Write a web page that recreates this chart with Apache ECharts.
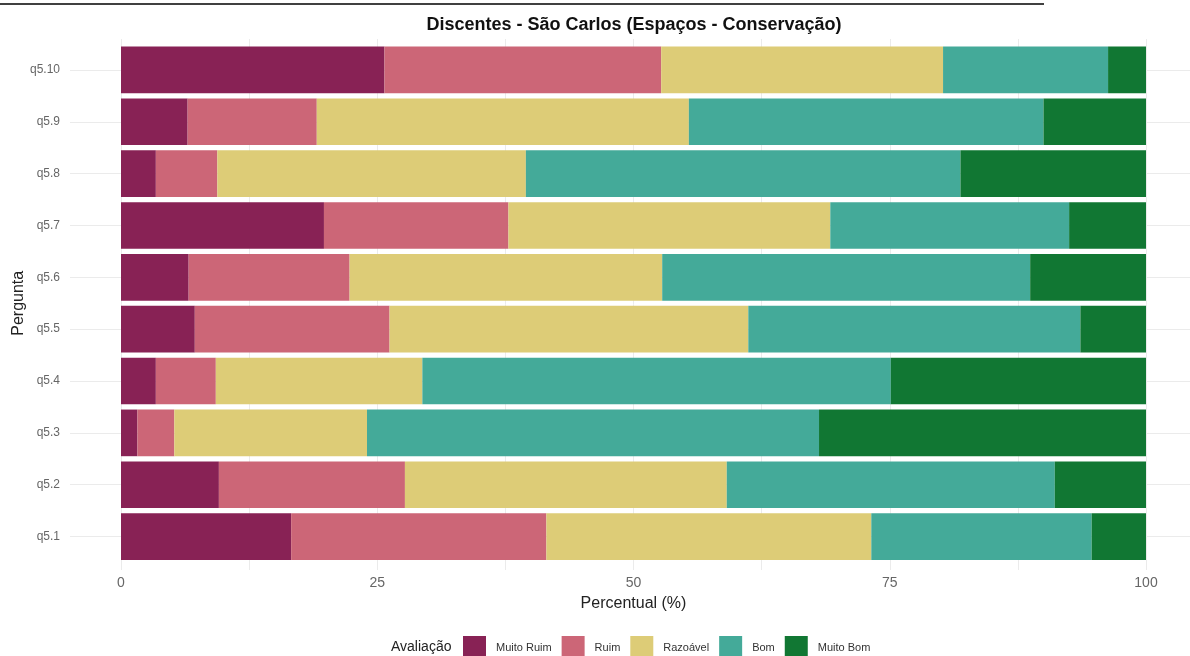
<!DOCTYPE html>
<html>
<head>
<meta charset="utf-8">
<script src="https://cdn.jsdelivr.net/npm/echarts@6/dist/echarts.min.js"></script>
<style>
html,body{margin:0;padding:0;background:#fff;}
#chart{width:1190px;height:656px;}
</style>
</head>
<body>
<div id="chart"></div>
<script>
// Data (bottom-to-top order, as ECharts category axis runs from bottom)
const categories = ['q5.1','q5.2','q5.3','q5.4','q5.5','q5.6','q5.7','q5.8','q5.9','q5.10'];
const seriesNames = ['Muito Ruim','Ruim','Razoável','Bom','Muito Bom'];
const muitoRuim = [16.6, 9.55, 1.6, 3.4, 7.2, 6.6, 19.8, 3.4, 6.5, 25.7];
const ruim      = [24.9, 18.15, 3.6, 5.85, 19.0, 15.7, 18.0, 6.0, 12.6, 27.0];
const razoavel  = [31.7, 31.4, 18.8, 20.15, 35.0, 30.5, 31.4, 30.1, 36.3, 27.5];
const bom       = [21.5, 32.0, 44.1, 45.7, 32.4, 35.9, 23.3, 42.4, 34.6, 16.1];
const muitoBom  = [5.3, 8.9, 31.9, 24.9, 6.4, 11.3, 7.5, 18.1, 10.0, 3.7];
const xTickLabels = [0, 25, 50, 75, 100];

const colors = ['#882255','#CC6677','#DDCC77','#44AA99','#117733'];
const values = [muitoRuim, ruim, razoavel, bom, muitoBom];
const FONT = 'Liberation Sans, Arial, sans-serif';

const chart = echarts.init(document.getElementById('chart'), null, {renderer:'canvas'});

const series = seriesNames.map((name, i) => ({
  name: name,
  type: 'bar',
  stack: 'total',
  xAxisIndex: 1,
  yAxisIndex: 1,
  barCategoryGap: '10%',
  itemStyle: {color: colors[i]},
  emphasis: {disabled: true},
  data: values[i]
}));

chart.setOption({
  animation: false,
  backgroundColor: '#ffffff',
  title: {
    text: 'Discentes - São Carlos (Espaços - Conservação)',
    left: 629,
    top: 11,
    textAlign: 'center',
    textStyle: {fontFamily: FONT, fontSize: 18, fontWeight: 'bold', color: '#111'}
  },
  legend: {
    data: seriesNames,
    left: 458,
    top: 631,
    itemWidth: 23,
    itemHeight: 23,
    itemGap: 10,
    icon: 'rect',
    textStyle: {fontFamily: FONT, fontSize: 11, color: '#333', padding: [0,0,0,5]}
  },
  grid: [
    {left: 70, right: 0, top: 70, bottom: 119.5, containLabel: false, outerBoundsMode: 'none'},
    {left: 121, right: 44, top: 44, bottom: 93.5, containLabel: false, outerBoundsMode: 'none'},
    {left: 121, right: 44, top: 39, bottom: 86, containLabel: false, outerBoundsMode: 'none'}
  ],
  xAxis: [
    {gridIndex: 0, type: 'value', min: 0, max: 100, show: false},
    {
      gridIndex: 1, type: 'value', min: 0, max: 100, interval: 12.5,
      axisLine: {show: false}, axisTick: {show: false},
      splitLine: {show: false},
      axisLabel: {
        margin: 14, fontFamily: FONT, fontSize: 14, color: '#666',
        formatter: v => (xTickLabels.indexOf(v) >= 0 ? String(v) : '')
      },
      name: 'Percentual (%)', nameLocation: 'middle', nameGap: 33,
      nameMoveOverlap: false,
      nameTextStyle: {fontFamily: FONT, fontSize: 16, color: '#222'}
    },
    {
      gridIndex: 2, type: 'value', min: 0, max: 100, interval: 12.5,
      axisLine: {show: false}, axisTick: {show: false}, axisLabel: {show: false},
      splitLine: {show: true, lineStyle: {color: '#ebebeb', width: 1}}
    }
  ],
  yAxis: [
    {
      gridIndex: 0, type: 'category', data: categories, boundaryGap: false,
      axisLine: {show: false}, axisTick: {show: false},
      splitLine: {show: true, lineStyle: {color: '#ebebeb', width: 1}},
      axisLabel: {margin: 10, fontFamily: FONT, fontSize: 12, color: '#666'},
      name: 'Pergunta', nameLocation: 'middle', nameGap: 43, nameRotate: 90,
      nameMoveOverlap: false,
      nameTextStyle: {fontFamily: FONT, fontSize: 16, color: '#222'}
    },
    {
      gridIndex: 1, type: 'category', data: categories,
      axisLine: {show: false}, axisTick: {show: false},
      axisLabel: {show: false}, splitLine: {show: false}
    },
    {
      gridIndex: 2, type: 'category', data: categories, show: false
    }
  ],
  graphic: [
    {type: 'line', shape: {x1: 0, y1: 4, x2: 1044, y2: 4}, style: {stroke: '#000', lineWidth: 1.5}},
    {type: 'text', left: 391, top: 640, style: {text: 'Avaliação', font: '14px ' + FONT, fill: '#222'}}
  ],
  series: series
});
</script>
</body>
</html>
